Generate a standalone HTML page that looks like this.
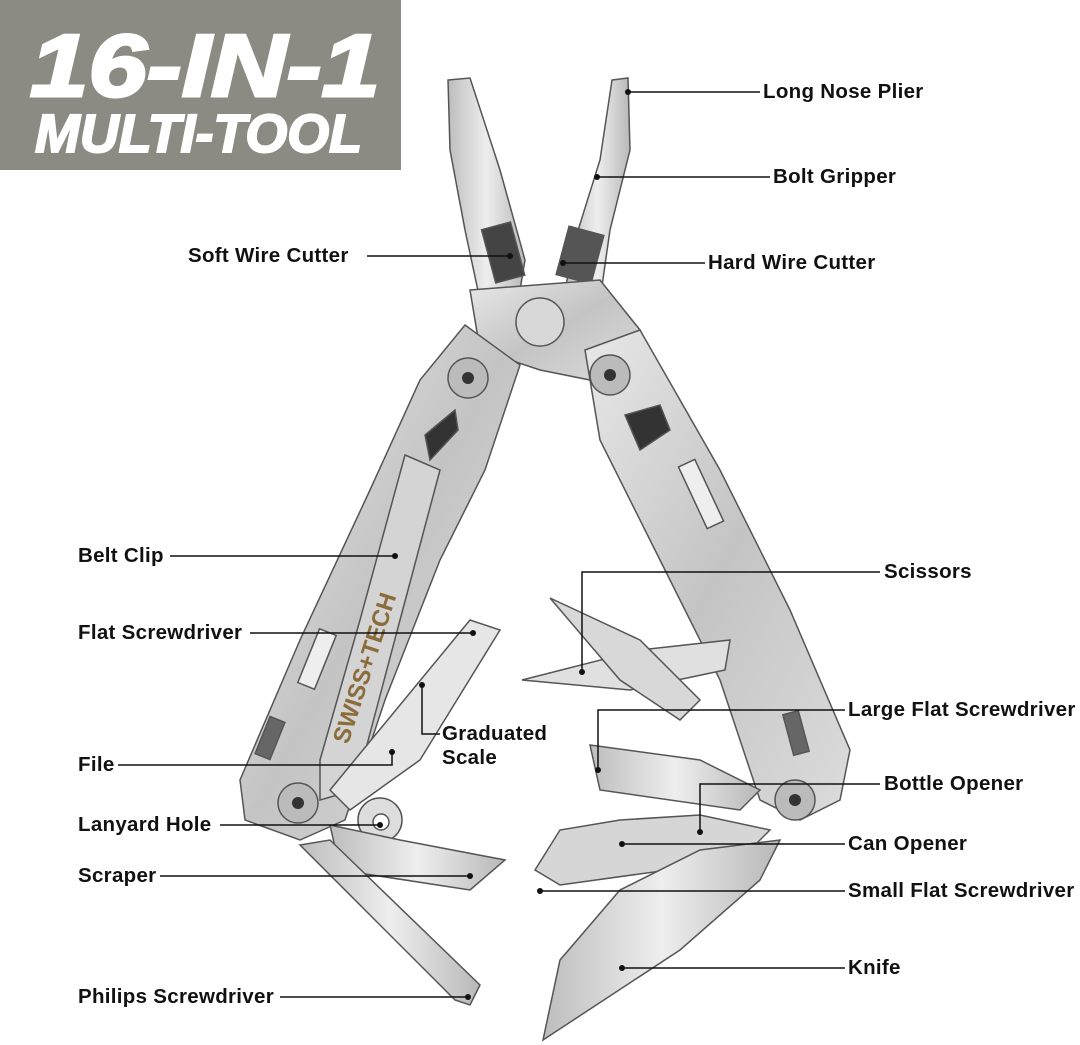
<!DOCTYPE html>
<html><head><meta charset="utf-8"><style>
html,body{margin:0;padding:0;background:#fff;}
body{width:1080px;height:1045px;position:relative;overflow:hidden;font-family:"Liberation Sans",sans-serif;}
.lb{position:absolute;font-size:20.5px;font-weight:bold;color:#111;white-space:nowrap;line-height:24px;letter-spacing:0.3px;}
</style></head><body>
<svg width="1080" height="1045" style="position:absolute;left:0;top:0">
<defs>
<linearGradient id="m" x1="0" y1="0" x2="1" y2="1"><stop offset="0" stop-color="#e8e8e8"/><stop offset="0.5" stop-color="#c4c4c4"/><stop offset="1" stop-color="#dcdcdc"/></linearGradient>
<linearGradient id="m2" x1="0" y1="0" x2="1" y2="0"><stop offset="0" stop-color="#bdbdbd"/><stop offset="0.5" stop-color="#eeeeee"/><stop offset="1" stop-color="#b8b8b8"/></linearGradient>
</defs>
<rect x="0" y="0" width="401" height="170" fill="#8b8b83"/>
<text x="30" y="96" font-family="Liberation Sans" font-weight="bold" font-style="italic" font-size="88" fill="#fff" stroke="#fff" stroke-width="3" textLength="350" lengthAdjust="spacingAndGlyphs">16-IN-1</text>
<text x="35" y="152" font-family="Liberation Sans" font-weight="bold" font-style="italic" font-size="54" fill="#fff" stroke="#fff" stroke-width="2" textLength="327" lengthAdjust="spacingAndGlyphs">MULTI-TOOL</text>
<g stroke="#555" stroke-width="1.5">
<polygon points="448,80 470,78 500,170 525,260 520,290 480,300 465,230 450,150" fill="url(#m2)"/>
<polygon points="612,80 628,78 630,150 610,230 600,300 565,290 575,240 600,160" fill="url(#m2)"/>
<rect x="488" y="225" width="30" height="55" fill="#444" transform="rotate(-15 503 252)"/>
<rect x="562" y="230" width="36" height="50" fill="#555" transform="rotate(15 580 255)"/>
<polygon points="470,290 600,280 640,330 590,380 540,370 480,350" fill="url(#m)"/>
<circle cx="540" cy="322" r="24" fill="#d8d8d8"/>
<polygon points="465,325 520,365 485,470 440,560 385,700 345,820 300,840 245,820 240,780 300,640 370,490 420,380" fill="url(#m)"/>
<polygon points="425,435 455,410 458,430 430,460" fill="#333"/>
<rect x="262" y="718" width="16" height="40" fill="#666" transform="rotate(22 270 738)"/>
<rect x="308" y="630" width="18" height="58" fill="#eee" transform="rotate(22 317 659)"/>
<polygon points="405,455 440,470 400,620 355,790 320,800 320,760 360,620" fill="#d4d4d4"/>
<text x="0" y="0" font-size="24" font-weight="bold" fill="#8a6d3b" stroke="none" transform="translate(348,745) rotate(-72)" font-family="Liberation Sans">SWISS+TECH</text>
<polygon points="585,350 640,330 720,470 790,610 850,750 840,800 800,820 760,800 720,680 650,540 600,440" fill="url(#m)"/>
<polygon points="625,415 660,405 670,430 640,450" fill="#333"/>
<rect x="692" y="460" width="18" height="68" fill="#eee" transform="rotate(-25 701 494)"/>
<rect x="788" y="712" width="16" height="42" fill="#666" transform="rotate(-15 796 733)"/>
<polygon points="330,790 470,620 500,630 420,760 350,810" fill="#e6e6e6"/>
<circle cx="380" cy="820" r="22" fill="#ddd"/><circle cx="381" cy="822" r="8" fill="#fff"/>
<polygon points="330,825 400,840 505,860 470,890 340,870" fill="url(#m2)"/>
<polygon points="300,845 330,840 480,985 470,1005 455,1000" fill="url(#m2)"/>
<polygon points="522,680 640,650 730,640 725,670 630,690" fill="#e0e0e0"/>
<polygon points="550,598 640,640 700,700 680,720 620,680" fill="#d8d8d8"/>
<polygon points="590,745 700,760 760,790 740,810 600,790" fill="url(#m2)"/>
<polygon points="535,870 560,830 620,820 700,815 770,830 740,860 560,885" fill="#d6d6d6"/>
<polygon points="543,1040 560,960 620,890 700,850 780,840 760,880 680,950" fill="url(#m2)"/>
<g fill="#bbb">
<circle cx="468" cy="378" r="20"/><circle cx="610" cy="375" r="20"/><circle cx="298" cy="803" r="20"/><circle cx="795" cy="800" r="20"/>
</g>
<g fill="#333" stroke="none"><circle cx="468" cy="378" r="6"/><circle cx="610" cy="375" r="6"/><circle cx="298" cy="803" r="6"/><circle cx="795" cy="800" r="6"/></g>
</g>
<g stroke="#111" stroke-width="1.5" fill="none">
<line x1="628" y1="92" x2="760" y2="92"/>
<line x1="597" y1="177" x2="770" y2="177"/>
<line x1="367" y1="256" x2="510" y2="256"/>
<line x1="563" y1="263" x2="705" y2="263"/>
<line x1="170" y1="556" x2="395" y2="556"/>
<line x1="250" y1="633" x2="473" y2="633"/>
<polyline points="422,685 422,734 440,734"/>
<polyline points="118,765 392,765 392,752"/>
<line x1="220" y1="825" x2="380" y2="825"/>
<line x1="160" y1="876" x2="470" y2="876"/>
<line x1="280" y1="997" x2="468" y2="997"/>
<polyline points="582,672 582,572 880,572"/>
<polyline points="598,770 598,710 845,710"/>
<polyline points="700,832 700,784 880,784"/>
<line x1="622" y1="844" x2="845" y2="844"/>
<line x1="540" y1="891" x2="845" y2="891"/>
<line x1="622" y1="968" x2="845" y2="968"/>
</g>
<g fill="#111">
<circle cx="628" cy="92" r="3"/><circle cx="597" cy="177" r="3"/><circle cx="510" cy="256" r="3"/><circle cx="563" cy="263" r="3"/>
<circle cx="395" cy="556" r="3"/><circle cx="473" cy="633" r="3"/><circle cx="422" cy="685" r="3"/><circle cx="392" cy="752" r="3"/>
<circle cx="380" cy="825" r="3"/><circle cx="470" cy="876" r="3"/><circle cx="468" cy="997" r="3"/><circle cx="582" cy="672" r="3"/>
<circle cx="598" cy="770" r="3"/><circle cx="700" cy="832" r="3"/><circle cx="622" cy="844" r="3"/><circle cx="540" cy="891" r="3"/><circle cx="622" cy="968" r="3"/>
</g>
</svg>
<div class="lb" style="left:763px;top:80px">Long Nose Plier</div>
<div class="lb" style="left:773px;top:165px">Bolt Gripper</div>
<div class="lb" style="left:188px;top:244px">Soft Wire Cutter</div>
<div class="lb" style="left:708px;top:251px">Hard Wire Cutter</div>
<div class="lb" style="left:78px;top:544px">Belt Clip</div>
<div class="lb" style="left:78px;top:621px">Flat Screwdriver</div>
<div class="lb" style="left:442px;top:722px">Graduated<br>Scale</div>
<div class="lb" style="left:78px;top:753px">File</div>
<div class="lb" style="left:78px;top:813px">Lanyard Hole</div>
<div class="lb" style="left:78px;top:864px">Scraper</div>
<div class="lb" style="left:78px;top:985px">Philips Screwdriver</div>
<div class="lb" style="left:884px;top:560px">Scissors</div>
<div class="lb" style="left:848px;top:698px">Large Flat Screwdriver</div>
<div class="lb" style="left:884px;top:772px">Bottle Opener</div>
<div class="lb" style="left:848px;top:832px">Can Opener</div>
<div class="lb" style="left:848px;top:879px">Small Flat Screwdriver</div>
<div class="lb" style="left:848px;top:956px">Knife</div>
</body></html>
